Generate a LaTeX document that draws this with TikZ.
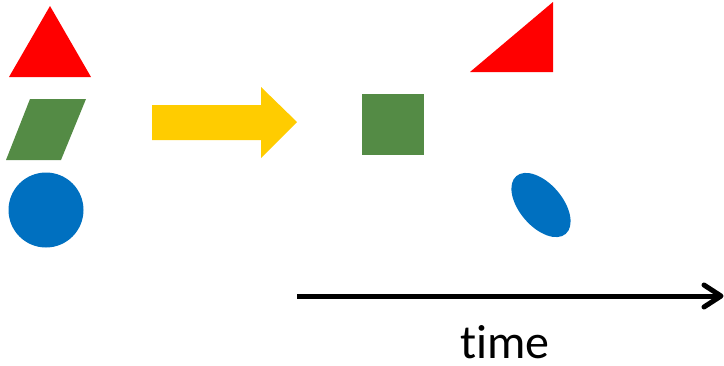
\documentclass[tikz,border=0pt]{standalone}
\usepackage{fontspec}
\setmainfont[Ligatures=NoCommon]{Carlito}
\definecolor{shred}{RGB}{255,0,0}
\definecolor{shgreen}{RGB}{84,139,69}
\definecolor{shblue}{RGB}{0,112,192}
\definecolor{shyellow}{RGB}{255,204,0}
\begin{document}
\begin{tikzpicture}[x=1pt,y=-1pt,
  timeline/.style={line width=5pt},
  label text/.style={font=\fontsize{48}{52}\selectfont, inner sep=0pt, text depth=0pt}]
\useasboundingbox (0,0) rectangle (724,365);
% left column
\fill[shred] (50,6) -- (91,77) -- (9,77) -- cycle;
\fill[shgreen] (30,99) -- (86,99) -- (61,160) -- (6,160) -- cycle;
\fill[shblue] (46,210) circle (37.5);
% big yellow arrow
\fill[shyellow] (152,105) -- (261,105) -- (261,87) -- (297,122) -- (261,158) -- (261,140) -- (152,140) -- cycle;
% right shapes
\fill[shgreen] (362,94) rectangle (424,155);
\fill[shred] (470,72) -- (553,72) -- (553,2) -- cycle;
\fill[shblue] (541,205) ellipse[x radius=38, y radius=21.5, rotate=-49.5];
% time axis
\coordinate (t0) at (297,296);
\coordinate (t1) at (721,296);
\draw[timeline] (t0) -- (t1);
\draw[timeline, line cap=round, line join=round] (704,285) -- (t1) -- (704,307);
\node[label text, anchor=base] (time) at (505,358) {time};
\end{tikzpicture}
\end{document}
